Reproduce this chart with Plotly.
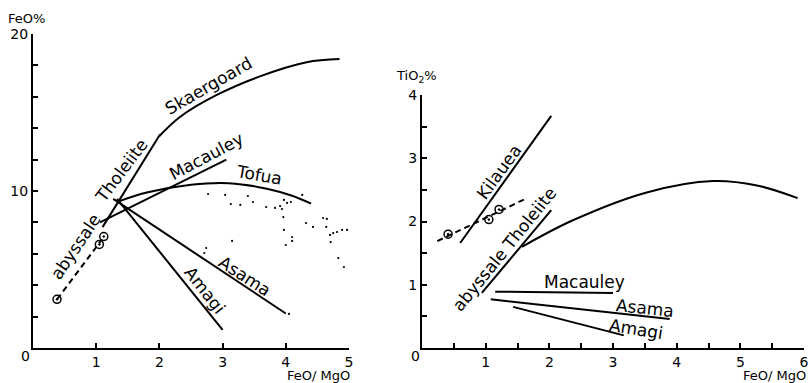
import plotly.graph_objects as go

# ---------------- Left panel data (FeO% vs FeO/MgO) ----------------
skaer_x = [2.0, 2.32, 2.9, 3.59, 4.33, 4.85]
skaer_y = [13.5, 14.7, 16.1, 17.3, 18.2, 18.4]
tofua_x = [1.33, 1.8, 2.5, 3.1, 3.7, 4.1, 4.4]
tofua_y = [9.3, 9.9, 10.4, 10.5, 10.15, 9.7, 9.2]
thol_l_x = [1.1, 2.01]
thol_l_y = [7.7, 13.6]
thol_dash_x = [0.38, 1.07]
thol_dash_y = [3.1, 6.8]
thol_circ_x = [0.38, 1.05, 1.12]
thol_circ_y = [3.1, 6.6, 7.1]
mac_l_x = [1.06, 3.06]
mac_l_y = [8.0, 12.0]
asama_l_x = [1.27, 4.0]
asama_l_y = [9.5, 2.2]
amagi_l_x = [1.33, 3.0]
amagi_l_y = [9.5, 1.15]
dots_x = [2.77, 3.04, 3.40, 3.48, 3.13, 3.28, 3.69, 3.83, 3.91, 3.97, 4.02, 4.08,
          3.94, 4.26, 3.96, 4.32, 4.43, 4.59, 4.65, 4.64, 3.97, 4.10, 4.10, 4.70,
          4.75, 4.81, 4.89, 4.97, 5.27, 5.54, 3.15, 4.00, 4.71, 4.83, 4.92, 2.74,
          2.71, 4.05]
dots_y = [9.81, 9.75, 9.68, 9.30, 9.17, 9.11, 8.98, 8.92, 9.04, 9.43, 9.24, 9.30,
          8.85, 9.75, 8.34, 7.96, 7.71, 8.28, 8.22, 7.71, 7.52, 7.07, 6.82, 7.20,
          7.32, 7.39, 7.52, 7.52, 7.58, 8.09, 6.82, 6.56, 6.75, 5.73, 5.16, 6.37,
          6.05, 2.17]

# ---------------- Right panel data (TiO2% vs FeO/MgO) ----------------
kil_x = [0.6, 2.03]
kil_y = [1.66, 3.67]
kil_dash_x = [0.24, 1.65]
kil_dash_y = [1.69, 2.37]
kil_circ_x = [0.41, 1.05, 1.21]
kil_circ_y = [1.80, 2.03, 2.19]
thol_r_x = [0.94, 2.03]
thol_r_y = [0.87, 2.18]
curve_r_x = [1.57, 2.37, 3.53, 4.57, 5.26, 5.9]
curve_r_y = [1.6, 2.02, 2.46, 2.64, 2.57, 2.37]
mac_r_x = [1.15, 3.0]
mac_r_y = [0.89, 0.87]
asama_r_x = [1.08, 3.89]
asama_r_y = [0.77, 0.46]
amagi_r_x = [1.43, 3.17]
amagi_r_y = [0.65, 0.2]

left_ytick_vals = [0, 2, 4, 6, 8, 10, 12, 14, 16, 18, 20]
left_ytick_text = ["", "", "", "", "", "10", "", "", "", "", "20"]
left_xtick_vals = [0, 1, 2, 3, 4, 5]
left_xtick_text = ["", "1", "2", "3", "4", "5"]
right_ytick_vals = [0, 0.5, 1, 1.5, 2, 2.5, 3, 3.5, 4]
right_ytick_text = ["", "", "1", "", "2", "", "3", "", "4"]
right_xtick_vals = [0, 0.5, 1, 1.5, 2, 2.5, 3, 3.5, 4, 4.5, 5, 5.5, 6]
right_xtick_text = ["", "", "1", "", "2", "", "3", "", "4", "", "5", "", "6"]

W, H = 808, 383
LBL = "DejaVu Sans"
fig = go.Figure()

def line(x, y, xa="x", ya="y", dash="solid", shape="linear", width=2):
    fig.add_trace(go.Scatter(x=x, y=y, mode="lines", xaxis=xa, yaxis=ya,
                             line=dict(color="black", width=width, dash=dash, shape=shape),
                             showlegend=False, hoverinfo="skip"))

def circles(x, y, xa="x", ya="y"):
    fig.add_trace(go.Scatter(x=x, y=y, mode="markers", xaxis=xa, yaxis=ya,
                             marker=dict(symbol="circle-open-dot", size=8, color="black",
                                         line=dict(width=1.5, color="black")),
                             showlegend=False, hoverinfo="skip", cliponaxis=False))

# left
line(skaer_x, skaer_y, shape="spline")
line(tofua_x, tofua_y, shape="spline")
line(thol_l_x, thol_l_y)
line(thol_dash_x, thol_dash_y, dash="6px,4px")
circles(thol_circ_x, thol_circ_y)
line(mac_l_x, mac_l_y)
line(asama_l_x, asama_l_y)
line(amagi_l_x, amagi_l_y)
fig.add_trace(go.Scatter(x=dots_x, y=dots_y, mode="markers", xaxis="x", yaxis="y",
                         marker=dict(size=2.2, color="black"), cliponaxis=False,
                         showlegend=False, hoverinfo="skip"))
# right
line(kil_x, kil_y, "x2", "y2")
line(kil_dash_x, kil_dash_y, "x2", "y2", dash="6px,4px")
circles(kil_circ_x, kil_circ_y, "x2", "y2")
line(thol_r_x, thol_r_y, "x2", "y2")
line(curve_r_x, curve_r_y, "x2", "y2", shape="spline")
line(mac_r_x, mac_r_y, "x2", "y2")
line(asama_r_x, asama_r_y, "x2", "y2")
line(amagi_r_x, amagi_r_y, "x2", "y2")

axfont = dict(family=LBL, size=14, color="black")
common = dict(showgrid=False, zeroline=False, showline=True, linecolor="black",
              linewidth=2, ticks="inside", tickcolor="black", tickwidth=1.5,
              ticklen=5, tickfont=axfont, tickmode="array", automargin=False,
              ticklabeloverflow="allow")

fig.update_layout(
    width=W, height=H, margin=dict(l=0, r=0, t=0, b=0, autoexpand=False),
    paper_bgcolor="white", plot_bgcolor="white",
    xaxis=dict(domain=[33 / W, 349 / W], range=[0, 5], anchor="y",
               tickvals=left_xtick_vals, ticktext=left_xtick_text, **common),
    yaxis=dict(domain=[(H - 348) / H, (H - 34) / H], range=[0, 20], anchor="x",
               tickvals=left_ytick_vals, ticktext=left_ytick_text, **common),
    xaxis2=dict(domain=[422 / W, 804 / W], range=[0, 6], anchor="y2",
                tickvals=right_xtick_vals, ticktext=right_xtick_text, **common),
    yaxis2=dict(domain=[(H - 348) / H, (H - 95) / H], range=[0, 4], anchor="x2",
                tickvals=right_ytick_vals, ticktext=right_ytick_text, **common),
)

anns = []
def lab(text, x, y, ang, xr="x", yr="y", size=17):
    anns.append(dict(text=text, x=x, y=y, xref=xr, yref=yr, textangle=ang,
                     showarrow=False, font=dict(family=LBL, size=size, color="black")))

lab("Skaergoard", 2.77, 16.7, -30)
lab("Tholeiite", 1.39, 11.3, -53)
lab("abyssale", 0.68, 6.5, -56)
lab("Macauley", 2.75, 12.2, -28)
lab("Tofua", 3.58, 11.0, 10)
lab("Asama", 3.35, 4.6, 33)
lab("Amagi", 2.72, 3.7, 52)

lab("Kilauea", 1.21, 2.78, -54, "x2", "y2")
lab("abyssale Tholeiite", 1.30, 1.56, -51, "x2", "y2")
lab("Macauley", 2.56, 1.04, 0, "x2", "y2")
lab("Asama", 3.50, 0.63, 6, "x2", "y2")
lab("Amagi", 3.36, 0.30, 9, "x2", "y2")

def ptxt(text, px, py, size=13, xanchor="center"):
    anns.append(dict(text=text, x=px / W, y=1 - py / H, xref="paper", yref="paper",
                     showarrow=False, xanchor=xanchor, yanchor="middle",
                     font=dict(family=LBL, size=size, color="black")))

ptxt("FeO%", 26, 18, 13)
ptxt("TiO<sub>2</sub>%", 416, 76, 13)
ptxt("0", 25, 356, 14)
ptxt("0", 415, 356, 14)
ptxt("FeO/ MgO", 318, 375, 13)
ptxt("FeO/ MgO", 774, 375, 13)

fig.update_layout(annotations=anns)
fig.write_html("out.html", config={"displayModeBar": False},
               post_script="document.body.style.margin='0';document.body.style.overflow='hidden';")
